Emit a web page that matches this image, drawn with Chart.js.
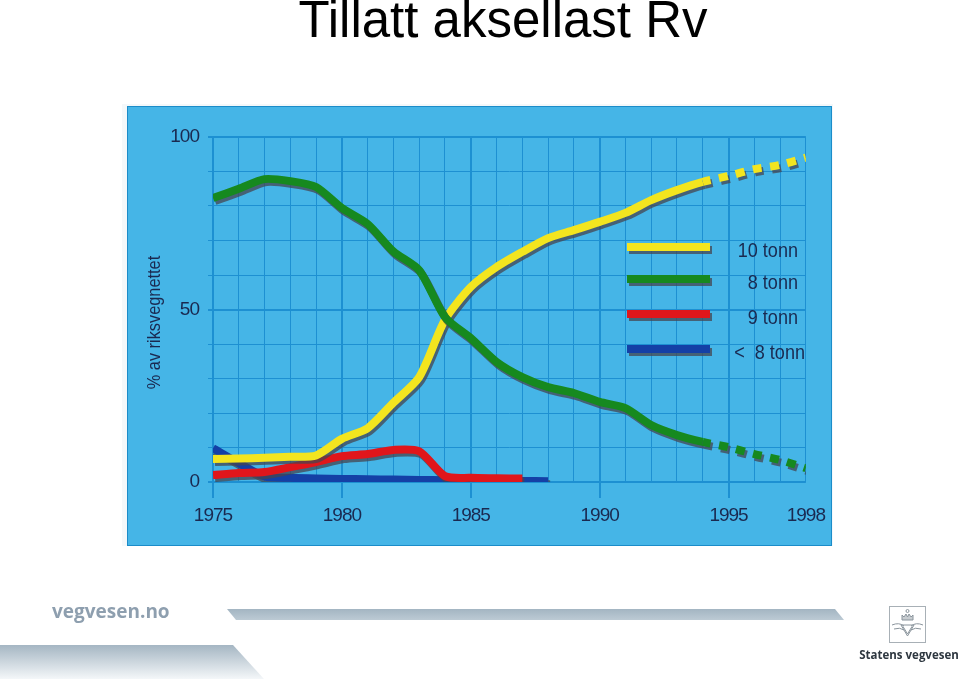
<!DOCTYPE html>
<html><head><meta charset="utf-8">
<script src="https://cdn.jsdelivr.net/npm/chart.js@4.4.0/dist/chart.umd.min.js"></script>
<style>
html,body{margin:0;padding:0;background:#fff;width:960px;height:679px;overflow:hidden;position:relative;font-family:'Liberation Sans',Arial,sans-serif}
#title{position:absolute;left:0;top:-6px;width:1006px;text-align:center;font-size:51px;line-height:51px;color:#000;white-space:nowrap}
#panelOuter{position:absolute;left:122px;top:104px;width:711px;height:442px;background:#f4f8fa}
#panel{position:absolute;left:127px;top:106px;width:705px;height:440px;background:#45b5e7;border:1.5px solid #1b8cc9;box-sizing:border-box}
#wrap{position:absolute;left:122px;top:104px;width:711px;height:442px}
#brand{position:absolute;left:52px;top:598px;font-family:'Open Sans',sans-serif;font-weight:700;font-size:19px;color:#8e9faf;line-height:26px}
#sv{position:absolute;left:858px;top:647px;width:102px;text-align:center;font-family:'Open Sans',sans-serif;font-weight:700;font-size:11.5px;color:#2e3740;line-height:16px;white-space:nowrap}
svg.deco{position:absolute;left:0;top:0}
</style></head>
<body>
<div id="title">Tillatt aksellast Rv</div>
<div id="panelOuter"></div>
<div id="panel"></div>
<div id="wrap"><canvas id="c" width="711" height="442"></canvas></div>
<svg class="deco" width="960" height="679">
  <defs>
    <linearGradient id="g1" x1="0" y1="0" x2="0" y2="1"><stop offset="0" stop-color="#a3b5c2"/><stop offset="1" stop-color="#bccad4"/></linearGradient>
    <linearGradient id="g2" x1="0" y1="0" x2="0" y2="1"><stop offset="0" stop-color="#a5b6c3"/><stop offset="1" stop-color="#f4f7f9"/></linearGradient>
  </defs>
  <polygon points="227,609 835,609 844,620 236,620" fill="url(#g1)"/>
  <polygon points="0,645 233,645 264,679 0,679" fill="url(#g2)"/>
  <g transform="translate(889,606)" fill="none" stroke="#8a949c" stroke-width="1">
    <rect x="0.5" y="0.5" width="36" height="36" stroke="#a8b0b6"/>
    <path d="M13 14 h11 v-5 l-2 2 l-2-3 l-1.5 3 l-1.5-3 l-2 3 l-2-2 z" fill="#c8cdd1"/>
    <circle cx="18.5" cy="5" r="1.5"/>
    <path d="M3 19 q7-3 12 1 M34 19 q-7-3 -12 1 M5 23 q6-2 10 1 M32 23 q-6-2 -10 1"/>
    <path d="M12 19 h13 l-6.5 11 z M14 20.5 l4.5 7.5 l4.5-7.5"/>
  </g>
</svg>
<div id="brand">vegvesen.no</div>
<div id="sv">Statens vegvesen</div>
<script>
const years      = [1975,1976,1977,1978,1979,1980,1981,1982,1983,1984,1985,1986,1987,1988,1989,1990,1991,1992,1993,1994,1995,1996,1997,1998];
const tonn10     = [6.7,6.8,7.0,7.3,7.7,12.5,15.6,23.0,30.4,47.0,56.5,62.3,66.7,70.7,73.0,75.4,78.0,81.7,84.6,87.0,88.7,90.7,91.9,94.0];
const tonn8      = [82.3,85.0,87.8,87.2,85.5,79.4,74.8,66.8,61.4,47.8,41.7,34.8,30.4,27.5,25.8,23.2,21.4,16.5,13.6,11.6,10.1,8.1,6.4,4.0];
const tonn9      = [2.0,2.6,2.9,4.3,5.8,7.5,8.1,9.3,8.9,1.7,1.2,1.1,1.0,null,null,null,null,null,null,null,null,null,null,null];
const under8     = [9.8,5.5,1.6,1.2,1.0,0.9,0.8,0.7,0.6,0.5,0.4,0.3,0.3,0.2,null,null,null,null,null,null,null,null,null,null];
const seriesNames = ['10 tonn','8 tonn','9 tonn','<  8 tonn'];
const xTickLabels = [1975,1980,1985,1990,1995,1998];
const yTickLabels = [0,50,100];
const projectionStart = 1994;
const yTitle = '% av riksvegnettet';

const colors = ['#f3e51f','#16891f','#e0161b','#1440a6'];
const seriesValues = [tonn10, tonn8, tonn9, under8];
const drawOrder = [2,1,3,4];
const FONT = "'Liberation Sans',Arial,sans-serif";
const textColor = '#1a2950';
const gridColor = '#1d90d2';

const toPoints = vals => years.map((y,i)=>({x:y,y:vals[i]})).filter(p=>p.y!==null);

const datasets = seriesValues.map((vals,i)=>({
  label: seriesNames[i],
  data: toPoints(vals),
  borderColor: colors[i],
  backgroundColor: colors[i],
  borderWidth: 8,
  pointRadius: 0,
  tension: 0.25,
  borderCapStyle: 'butt',
  borderJoinStyle: 'round',
  order: drawOrder[i],
  segment: {
    borderDash: c => c.p0.parsed.x >= projectionStart ? [9,8.5] : undefined,
    borderDashOffset: c => c.p0.parsed.x >= projectionStart ? 1 : 0
  }
}));

const condensePlugin = {
  id: 'condense',
  beforeDraw(chart){ try { chart.ctx.letterSpacing = '-1px'; } catch(e){} }
};

const shadowPlugin = {
  id: 'shadow',
  beforeDatasetDraw(chart){ const ctx=chart.ctx; ctx.save(); ctx.shadowColor='rgba(70,70,80,0.75)'; ctx.shadowOffsetX=2; ctx.shadowOffsetY=3; ctx.shadowBlur=0; },
  afterDatasetDraw(chart){ chart.ctx.restore(); }
};

const overlayPlugin = {
  id: 'overlay',
  afterDatasetsDraw(chart){
    const ctx = chart.ctx, a = chart.chartArea;
    const x0 = a.left + 414, x1 = a.left + 497, textRight = a.left + 585;
    const ys = [a.top + 110, a.top + 142, a.top + 177, a.top + 212];
    ctx.save();
    ctx.letterSpacing = '0px';
    seriesNames.forEach((name,i)=>{
      ctx.save();
      ctx.shadowColor='rgba(70,70,80,0.75)'; ctx.shadowOffsetX=2; ctx.shadowOffsetY=3;
      ctx.strokeStyle = colors[i]; ctx.lineWidth = 8; ctx.lineCap='butt';
      ctx.beginPath(); ctx.moveTo(x0, ys[i]); ctx.lineTo(x1, ys[i]); ctx.stroke();
      ctx.restore();
      ctx.save();
      ctx.translate(textRight + (i===3 ? 7 : 0), ys[i] + 4);
      ctx.scale(0.86, 1);
      ctx.fillStyle = textColor;
      ctx.font = "21px " + FONT;
      ctx.textAlign = 'right'; ctx.textBaseline = 'middle';
      ctx.fillText(name, 0, 0);
      ctx.restore();
    });
    ctx.translate(33, (a.top + a.bottom)/2 + 13);
    ctx.rotate(-Math.PI/2);
    ctx.scale(0.86, 1);
    ctx.textAlign='center'; ctx.textBaseline='middle';
    ctx.font = "19px " + FONT;
    ctx.fillStyle = textColor;
    ctx.fillText(yTitle, 0, 0);
    ctx.restore();
  }
};

new Chart(document.getElementById('c'), {
  type: 'line',
  data: { datasets },
  options: {
    responsive: false,
    animation: false,
    events: [],
    layout: { padding: { left: 0, top: 33, right: 26, bottom: 0 } },
    plugins: { legend: { display: false }, tooltip: { enabled: false } },
    scales: {
      x: {
        type: 'linear', min: years[0], max: years[years.length-1],
        afterFit(s){ s.height = 64; },
        afterBuildTicks(s){ s.ticks = years.map(v=>({value:v})); },
        ticks: {
          autoSkip: false, maxRotation: 0, padding: 6,
          color: textColor, font: { family: FONT, size: 19 },
          callback: v => xTickLabels.includes(v) ? String(v) : ''
        },
        grid: {
          color: gridColor,
          lineWidth: c => (c.tick && c.tick.value % 5 === 0) ? 2 : 1,
          tickLength: 16,
          tickColor: c => (c.tick && c.tick.value % 5 === 0) ? gridColor : 'rgba(0,0,0,0)'
        },
        border: { display: false }
      },
      y: {
        min: 0, max: 100,
        afterFit(s){ s.width = 91; },
        ticks: {
          stepSize: 10, padding: 9,
          color: textColor, font: { family: FONT, size: 19 },
          callback: v => yTickLabels.includes(v) ? String(v) : ''
        },
        grid: {
          color: gridColor,
          lineWidth: c => (c.tick && c.tick.value % 50 === 0) ? 2 : 1,
          tickLength: 5
        },
        border: { display: false }
      }
    }
  },
  plugins: [condensePlugin, shadowPlugin, overlayPlugin]
});
</script>
</body></html>
